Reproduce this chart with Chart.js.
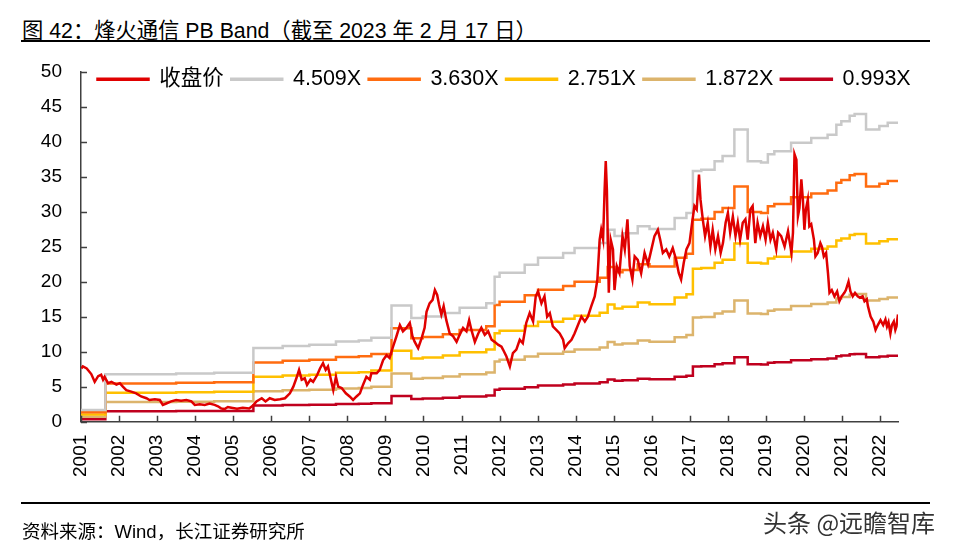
<!DOCTYPE html>
<html>
<head>
<meta charset="utf-8">
<script src="https://cdn.jsdelivr.net/npm/chart.js@4"></script>
<style>
  body { margin: 0; background: #fff; }
  #wrap { position: relative; width: 954px; height: 549px; overflow: hidden; font-family: "Liberation Sans", Arial, "Noto Sans CJK SC", sans-serif; }
  #title { position: absolute; left: 22px; top: 13px; font-size: 21.3px; color: #000; white-space: nowrap; }
  .rule { position: absolute; left: 21px; width: 909px; height: 2px; background: #000; }
  #source { position: absolute; left: 22px; top: 517px; font-size: 18.5px; color: #000; white-space: nowrap; }
  #mark { position: absolute; left: 763px; top: 504px; font-size: 24px; color: #333; font-family: "Noto Sans CJK SC", sans-serif; white-space: nowrap; }
  #chartBox { position: absolute; left: 0; top: 0; width: 954px; height: 549px; }
</style>
</head>
<body>
<div id="wrap">
  <div id="title">图 42：烽火通信 PB Band（截至 2023 年 2 月 17 日）</div>
  <div class="rule" style="top:40px"></div>
  <div id="chartBox"><canvas id="pbChart"></canvas></div>
  <div class="rule" style="top:502px"></div>
  <div id="source">资料来源：Wind，长江证券研究所</div>
  <div id="mark">头条 @远瞻智库</div>
</div>
<script>
// 收盘价 [年份, 价格]
const closePrice = [
  [2001.01,7.6],[2001.05,7.9],[2001.15,7.6],[2001.27,6.8],[2001.36,5.7],[2001.45,6.5],[2001.53,6.7],[2001.58,6.0],[2001.62,6.4],
  [2001.71,5.5],[2001.80,5.7],[2001.93,5.3],[2002.02,5.5],[2002.10,5.0],[2002.19,4.5],[2002.32,4.3],[2002.45,4.05],[2002.58,3.6],
  [2002.72,3.35],[2002.80,3.1],[2002.94,3.2],[2003.07,3.1],[2003.15,2.4],[2003.24,2.6],[2003.37,2.9],[2003.50,3.1],[2003.63,3.0],
  [2003.77,3.1],[2003.90,2.9],[2003.99,2.4],[2004.12,2.5],[2004.25,2.4],[2004.38,2.6],[2004.51,2.4],[2004.60,2.2],[2004.68,1.9],
  [2004.77,1.8],[2004.86,2.1],[2004.95,2.0],[2005.10,1.85],[2005.25,2.0],[2005.42,1.9],[2005.52,2.3],
  [2005.61,2.9],[2005.75,3.35],[2005.85,2.9],[2005.96,3.35],[2006.09,3.1],[2006.23,3.2],[2006.36,3.35],[2006.49,4.05],[2006.58,5.0],
  [2006.66,6.2],[2006.73,7.4],[2006.80,6.0],[2006.88,6.2],[2006.94,5.25],[2007.03,6.0],[2007.10,5.7],[2007.21,6.7],[2007.28,7.6],
  [2007.36,8.35],[2007.43,7.4],[2007.49,7.9],[2007.56,6.2],[2007.63,4.5],[2007.70,6.4],[2007.76,5.0],[2007.85,4.8],[2007.96,4.05],
  [2008.06,3.6],[2008.15,3.1],[2008.24,3.6],[2008.33,4.05],[2008.41,5.25],[2008.50,6.4],[2008.59,6.0],
  [2008.63,6.9],[2008.77,6.9],[2008.85,7.4],[2008.94,8.8],[2009.03,9.5],[2009.11,9.1],[2009.20,10.7],[2009.29,12.2],[2009.38,13.8],
  [2009.46,12.9],[2009.55,13.4],[2009.64,14.1],[2009.71,12.2],[2009.77,11.4],[2009.86,10.5],[2009.95,11.9],[2010.03,13.4],[2010.08,15.7],
  [2010.16,16.9],[2010.24,17.4],[2010.30,18.8],[2010.36,18.1],[2010.41,16.7],[2010.47,15.3],[2010.53,16.5],[2010.60,14.5],[2010.69,12.6],
  [2010.78,12.2],[2010.87,11.4],[2010.95,12.4],[2011.04,13.4],[2011.13,12.9],[2011.20,14.5],[2011.26,13.1],[2011.35,11.4],[2011.44,12.6],
  [2011.52,13.4],[2011.61,12.4],[2011.70,12.9],[2011.79,11.7],[2011.87,11.4],[2011.96,11.0],
  [2012.05,10.7],[2012.09,10.3],[2012.18,9.3],[2012.27,7.9],[2012.35,9.8],[2012.44,10.3],[2012.53,11.7],[2012.61,11.2],[2012.70,14.1],
  [2012.79,15.5],[2012.88,14.3],[2012.95,17.9],[2013.01,18.6],[2013.10,16.9],[2013.18,17.9],[2013.25,15.0],[2013.32,15.5],[2013.40,13.6],
  [2013.49,13.1],[2013.58,12.6],[2013.67,11.7],[2013.71,10.5],[2013.80,11.2],[2013.89,11.7],[2013.97,12.6],[2014.06,13.8],[2014.15,15.0],
  [2014.24,14.3],[2014.32,15.0],[2014.41,16.5],[2014.50,17.9],[2014.57,20.3],[2014.63,26.0],[2014.67,27.4],[2014.72,26.0],[2014.76,33.1],
  [2014.79,37.2],[2014.82,33.1],[2014.87,18.4],[2014.92,26.0],[2014.98,24.6],[2015.02,18.8],[2015.08,22.2],[2015.15,21.2],[2015.23,26.5],
  [2015.29,24.6],[2015.36,28.9],[2015.42,22.2],[2015.49,20.3],[2015.55,23.6],[2015.63,23.1],[2015.72,21.2],[2015.81,24.1],[2015.90,22.5],
  [2015.99,24.6],[2016.07,26.5],[2016.16,27.4],[2016.22,26.0],[2016.29,24.1],[2016.38,24.6],[2016.46,23.6],[2016.55,24.8],[2016.64,23.1],
  [2016.71,21.2],[2016.77,20.3],[2016.84,22.7],[2016.91,24.6],[2016.99,25.5],[2017.06,28.4],[2017.12,30.8],[2017.18,30.3],[2017.24,35.3],
  [2017.28,31.7],[2017.34,28.9],[2017.40,26.5],[2017.47,28.4],[2017.54,25.0],[2017.60,27.4],[2017.67,24.6],[2017.74,26.5],[2017.81,24.1],
  [2017.87,25.5],[2017.94,28.4],[2018.00,29.8],[2018.06,27.0],[2018.13,29.3],[2018.20,26.5],[2018.26,28.4],[2018.32,26.0],[2018.39,28.4],
  [2018.46,28.9],[2018.52,26.0],[2018.59,30.3],[2018.65,30.8],[2018.72,25.5],[2018.78,28.4],[2018.85,26.5],[2018.92,27.9],[2018.99,26.0],
  [2019.05,28.4],[2019.12,26.0],[2019.18,27.0],[2019.27,24.6],
  [2019.32,27.0],[2019.40,26.5],[2019.49,25.0],[2019.58,27.2],[2019.67,24.1],[2019.71,27.0],[2019.75,38.2],[2019.80,37.4],[2019.84,29.3],
  [2019.88,30.5],[2019.93,34.6],[2019.97,31.7],[2020.01,27.4],[2020.05,30.3],[2020.10,31.7],[2020.14,27.9],[2020.19,28.2],[2020.26,26.0],
  [2020.30,23.6],[2020.36,24.1],[2020.43,25.5],[2020.47,25.0],[2020.52,23.6],[2020.58,24.1],[2020.63,21.2],[2020.67,18.4],[2020.73,18.8],
  [2020.80,17.9],[2020.87,18.6],[2020.93,17.2],[2020.99,17.9],[2021.06,18.4],[2021.10,18.8],[2021.17,20.0],[2021.22,18.6],[2021.28,17.9],
  [2021.34,18.4],[2021.41,17.9],[2021.47,17.7],[2021.54,17.9],[2021.59,17.2],[2021.65,17.5],[2021.68,16.5],[2021.75,15.0],[2021.82,14.3],
  [2021.88,13.1],[2021.94,13.8],[2022.01,14.5],[2022.08,13.8],[2022.14,14.6],[2022.18,13.6],[2022.22,14.2],[2022.27,12.6],[2022.31,13.8],
  [2022.36,14.3],[2022.40,13.1],[2022.43,13.6],[2022.45,14.5],[2022.47,15.3]
];

// 每股净资产(阶梯)：变动日期与数值
const bvpsDates = [2001.0, 2001.64, 2003.5, 2004.5, 2005.53, 2006.3, 2007.0, 2007.7, 2008.3, 2008.63,
  2009.16, 2009.68, 2009.98, 2010.51, 2010.95, 2011.65, 2011.87, 2012.0, 2012.66, 2013.01,
  2013.67, 2013.97, 2014.63, 2014.84, 2015.02, 2015.23, 2015.63, 2015.94, 2016.6, 2016.91,
  2017.08, 2017.30, 2017.65, 2017.86, 2018.17, 2018.52, 2018.87, 2019.05, 2019.22, 2019.66,
  2020.19, 2020.62, 2020.85, 2020.98, 2021.2, 2021.33, 2021.63, 2021.98, 2022.2, 2022.47];
const bvps = [0.37, 1.50, 1.53, 1.55, 2.33, 2.40, 2.44, 2.54, 2.57, 2.66,
  3.68, 3.28, 3.33, 3.44, 3.61, 3.75, 4.59, 4.72, 4.97, 5.19,
  5.34, 5.50, 5.66, 6.08, 5.88, 5.97, 6.19, 6.10, 6.45, 6.61,
  7.94, 7.98, 8.25, 8.41, 9.25, 8.25, 8.21, 8.47, 8.56, 8.83,
  8.98, 9.09, 9.40, 9.51, 9.69, 9.74, 9.25, 9.36, 9.47, 9.47];

const pbMultiples = [4.509, 3.630, 2.751, 1.872, 0.993];
const bandLabels = ['4.509X', '3.630X', '2.751X', '1.872X', '0.993X'];
const bandColors = ['#c9c9c9', '#ff6c10', '#ffc000', '#dcb46c', '#c0001e'];
const yTicks = [0, 5, 10, 15, 20, 25, 30, 35, 40, 45, 50];
const yearTicks = [2001, 2002, 2003, 2004, 2005, 2006, 2007, 2008, 2009, 2010, 2011,
  2012, 2013, 2014, 2015, 2016, 2017, 2018, 2019, 2020, 2021, 2022];

const tickFont = { family: '"Liberation Sans", Arial, "Noto Sans CJK SC"', size: 19 };

// short tick marks drawn inside the axes
const innerTicks = {
  id: 'innerTicks',
  afterDatasetsDraw(chart) {
    const { ctx, scales: { x, y } } = chart;
    ctx.save();
    ctx.strokeStyle = '#404040';
    ctx.lineWidth = 1.5;
    ctx.beginPath();
    y.ticks.forEach((t, i) => {
      const py = Math.round(y.getPixelForTick(i)) + 0.5;
      ctx.moveTo(x.left, py);
      ctx.lineTo(x.left + 6, py);
    });
    x.ticks.forEach((t, i) => {
      const px = Math.round(x.getPixelForTick(i)) + 0.5;
      ctx.moveTo(px, y.bottom);
      ctx.lineTo(px, y.bottom - 6);
    });
    ctx.stroke();
    ctx.restore();
  }
};

// legend box takes its room at the top, then gets moved down into the plot
const legendPlace = {
  id: 'legendPlace',
  afterLayout(chart) {
    const lg = chart.legend;
    lg.left = 90;
    lg.top = 61;
    lg.right = 954;
    lg.bottom = 111;
  }
};

document.addEventListener('DOMContentLoaded', () => {
  const ctx = document.getElementById('pbChart').getContext('2d');

  const datasets = [{
    label: '收盘价',
    data: closePrice.map(p => ({ x: p[0], y: p[1] })),
    borderColor: '#e00000',
    backgroundColor: '#e00000',
    borderWidth: 2.5
  }];
  pbMultiples.forEach((m, k) => {
    datasets.push({
      label: bandLabels[k],
      data: bvpsDates.map((d, i) => ({ x: d, y: +(m * bvps[i]).toFixed(3) })),
      borderColor: bandColors[k],
      backgroundColor: bandColors[k],
      borderWidth: 2.5,
      stepped: true
    });
  });

  new Chart(ctx, {
    type: 'line',
    data: { datasets },
    options: {
      responsive: true,
      maintainAspectRatio: false,
      animation: false,
      layout: { padding: { top: 32.5, right: 56, left: 0, bottom: 0 } },
      elements: { point: { radius: 0 }, line: { tension: 0 } },
      plugins: {
        tooltip: { enabled: false },
        legend: {
          position: 'top',
          align: 'start',
          labels: {
            boxWidth: 51,
            boxHeight: 1,
            padding: 7.5,
            color: '#000',
            font: { family: '"Liberation Sans", Arial, "Noto Sans CJK SC"', size: 21.5 }
          }
        }
      },
      scales: {
        x: {
          type: 'linear',
          min: 2001,
          max: 2022.47,
          afterBuildTicks: s => { s.ticks = yearTicks.map(v => ({ value: v })); },
          afterFit: s => { s.height = 127.3; },
          grid: { display: false, drawTicks: false },
          border: { display: true, color: '#404040', width: 1.5 },
          ticks: {
            color: '#000',
            font: tickFont,
            minRotation: 90,
            maxRotation: 90,
            padding: 13,
            autoSkip: false,
            callback: v => String(v)
          }
        },
        y: {
          min: 0,
          max: 50,
          afterBuildTicks: s => { s.ticks = yTicks.map(v => ({ value: v })); },
          afterFit: s => { s.width = 81; },
          grid: { display: false, drawTicks: false },
          border: { display: true, color: '#404040', width: 1.5 },
          ticks: { color: '#000', font: tickFont, padding: 19, callback: v => String(v) }
        }
      }
    },
    plugins: [innerTicks, legendPlace]
  });
});
</script>
</body>
</html>
